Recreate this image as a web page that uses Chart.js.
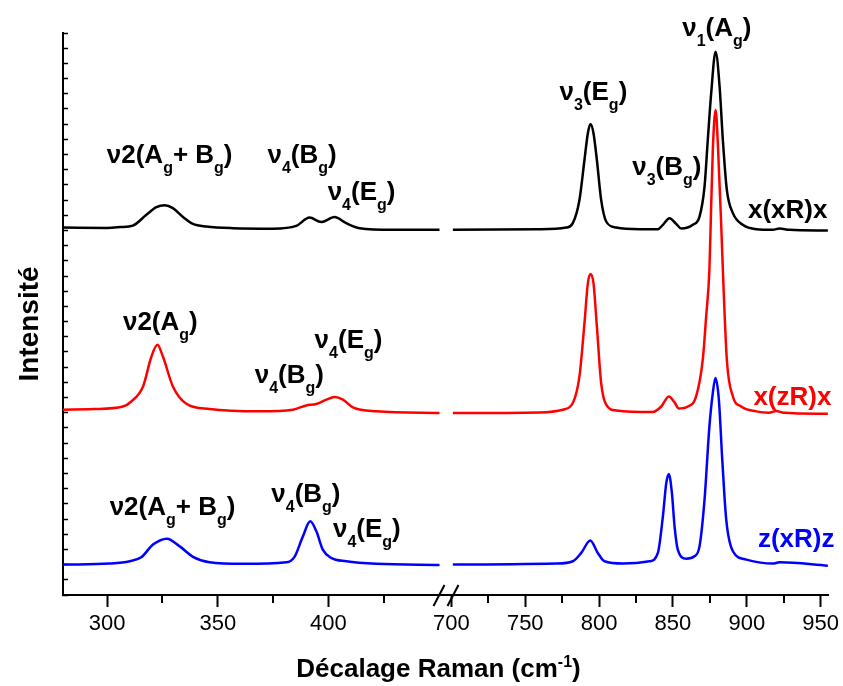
<!DOCTYPE html>
<html>
<head>
<meta charset="utf-8">
<script src="https://cdn.jsdelivr.net/npm/chart.js@4.4.0/dist/chart.umd.min.js"></script>
<style>
  html, body { margin: 0; padding: 0; background: #fff; }
  #wrap { width: 843px; height: 686px; }
</style>
</head>
<body>
<div id="wrap"><canvas id="raman"></canvas></div>
<script>
// spectres Raman : partie basse (280-453 cm-1) et haute (696-955 cm-1)
// intensité en unités arbitraires, chaque polarisation décalée verticalement

// x(xR)x
const blackLowX = [280, 300, 306, 311.6, 317.7, 322.2, 326.0, 329.7, 334.3, 338.8, 344.8, 356.9, 375, 385.5, 391.5, 396.8, 402.8, 408.1, 414.1, 429.2, 450.3];
const blackLowY = [23.19, 23.17, 23.22, 23.32, 24.03, 24.53, 24.66, 24.47, 23.88, 23.43, 23.26, 23.15, 23.12, 23.30, 23.85, 23.55, 23.88, 23.48, 23.15, 23.04, 23.04];
const blackHighX = [701, 759.6, 777.7, 782.2, 786.7, 790.1, 792.4, 794.2, 796.2, 798.5, 801.4, 804.8, 811.6, 827.4, 839.8, 843.2, 847.7, 852.2, 855.6, 863.5, 868.0, 871.4, 873.6, 875.9, 878.9, 881.6, 883.8, 886.5, 890.6, 897.3, 906.4, 917.6, 922.2, 928.9, 954.9];
const blackHighY = [23.04, 23.08, 23.19, 23.48, 25.01, 27.64, 29.40, 30.01, 29.40, 27.64, 25.01, 23.59, 23.19, 23.08, 23.08, 23.37, 23.81, 23.43, 23.13, 23.37, 23.91, 25.89, 28.96, 32.03, 34.77, 32.47, 28.96, 25.67, 24.14, 23.37, 23.08, 23.04, 23.13, 23.04, 22.99];

// x(zR)x
const redLowX = [280, 293.6, 307.1, 310.9, 316.2, 320.0, 322.7, 325.2, 329.7, 335.8, 346.3, 368.9, 384.0, 390.0, 394.6, 399.1, 402.8, 406.6, 411.1, 421.7, 450.3];
const redLowY = [11.20, 11.24, 11.41, 11.74, 12.73, 14.70, 15.47, 14.70, 12.73, 11.59, 11.24, 11.09, 11.20, 11.48, 11.57, 11.86, 12.03, 11.86, 11.35, 11.09, 10.98];
const redHighX = [701, 759.6, 775.4, 782.2, 786.7, 790.1, 792.4, 794.2, 796.2, 798.5, 801.4, 804.8, 811.6, 836.4, 842.1, 847.2, 851.1, 854.0, 860.1, 865.7, 870.2, 872.5, 874.7, 875.4, 877.0, 878.9, 880.6, 882.9, 883.8, 886.5, 890.6, 896.2, 906.4, 915, 919.9, 925, 954.9];
const redHighY = [10.98, 11.02, 11.20, 11.64, 13.39, 16.90, 19.53, 20.14, 19.53, 16.68, 12.95, 11.53, 11.15, 11.05, 11.41, 12.07, 11.68, 11.28, 11.41, 12.07, 14.49, 17.34, 20.41, 22.82, 28.30, 30.93, 28.30, 22.82, 20.41, 14.49, 12.07, 11.41, 11.09, 11.00, 11.12, 11.00, 10.93];

// z(xR)z
const blueLowX = [280, 301.1, 310.2, 315.4, 320.7, 327.0, 332.8, 338.8, 346.3, 361.4, 381.0, 384.7, 388.5, 391.8, 394.6, 397.5, 401.3, 408.1, 421.7, 450.3];
const blueLowY = [1.00, 1.07, 1.22, 1.48, 2.32, 2.71, 2.20, 1.51, 1.15, 1.05, 1.15, 1.51, 2.86, 3.85, 3.19, 1.99, 1.44, 1.22, 1.05, 0.98];
const blueHighX = [701, 770.9, 782.2, 787.9, 794.0, 799.1, 803.7, 816.1, 834.1, 839.8, 843.2, 845.5, 847.2, 849.3, 851.1, 853.3, 859.0, 864.6, 868.0, 871.4, 874.7, 877.0, 878.8, 881.1, 883.4, 886.1, 890.6, 899.7, 917.6, 922.2, 954.9];
const blueHighY = [1.00, 1.07, 1.22, 1.77, 2.58, 1.77, 1.22, 1.07, 1.22, 1.77, 4.18, 6.38, 6.97, 5.72, 3.52, 1.99, 1.39, 1.55, 2.20, 5.28, 10.10, 12.30, 13.28, 11.86, 7.91, 3.96, 1.88, 1.33, 1.07, 1.15, 0.93];

// graduations
const lowTicks = [300, 350, 400];
const lowMinor = [325, 375, 425];
const highTicks = [700, 750, 800, 850, 900, 950];
const highMinor = [725, 775, 825, 875, 925];

const BLACK = '#000000';
const RED = '#ff0000';
const BLUE = '#0000ff';
const FONT = '"Liberation Sans", Arial, Helvetica, sans-serif';

// attributions des bandes (_ = indice, ^{} = exposant)
const peakLabels = [
    { text: 'ν2(A_g+ B_g)', axis: 'xL', x: 299.8, y: 27.45, color: BLACK },
    { text: 'ν_4(B_g)', axis: 'xL', x: 372.5, y: 27.45, color: BLACK },
    { text: 'ν_4(E_g)', axis: 'xL', x: 399.7, y: 25.0, color: BLACK },
    { text: 'ν_3(E_g)', axis: 'xR', x: 773.2, y: 31.6, color: BLACK },
    { text: 'ν_3(B_g)', axis: 'xR', x: 822.4, y: 26.66, color: BLACK },
    { text: 'ν_1(A_g)', axis: 'xR', x: 856.3, y: 35.8, color: BLACK },
    { text: 'x(xR)x', axis: 'xR', x: 954.6, y: 23.83, color: BLACK, align: 'right' },
    { text: 'ν2(A_g)', axis: 'xL', x: 307.1, y: 16.46, color: BLACK },
    { text: 'ν_4(E_g)', axis: 'xL', x: 393.8, y: 15.28, color: BLACK },
    { text: 'ν_4(B_g)', axis: 'xL', x: 366.7, y: 12.97, color: BLACK },
    { text: 'x(zR)x', axis: 'xR', x: 957.3, y: 11.53, color: RED, align: 'right' },
    { text: 'ν2(A_g+ B_g)', axis: 'xL', x: 301.1, y: 4.29, color: BLACK },
    { text: 'ν_4(B_g)', axis: 'xL', x: 374.2, y: 5.14, color: BLACK },
    { text: 'ν_4(E_g)', axis: 'xL', x: 402.1, y: 2.84, color: BLACK },
    { text: 'z(xR)z', axis: 'xR', x: 959.4, y: 2.18, color: BLUE, align: 'right' }
];

function toPoints(xs, ys) {
    return xs.map((x, i) => ({ x: x, y: ys[i] }));
}

// découpe "ν_4(B_g)" en morceaux normal / indice / exposant
function richParts(str) {
    const parts = [];
    let i = 0;
    while (i < str.length) {
        const c = str[i];
        if (c === '_' || c === '^') {
            let t;
            if (str[i + 1] === '{') {
                const j = str.indexOf('}', i);
                t = str.slice(i + 2, j);
                i = j + 1;
            } else {
                t = str[i + 1];
                i += 2;
            }
            parts.push({ t: t, mode: c === '_' ? 'sub' : 'sup' });
        } else {
            let j = i;
            while (j < str.length && str[j] !== '_' && str[j] !== '^') j++;
            parts.push({ t: str.slice(i, j), mode: 'n' });
            i = j;
        }
    }
    return parts;
}

function drawRich(ctx, str, x, y, size, color, align) {
    const parts = richParts(str);
    const small = Math.round(size * 0.62);
    const fontOf = p => `bold ${p.mode === 'n' ? size : small}px ${FONT}`;
    let w = 0;
    parts.forEach(p => {
        ctx.font = fontOf(p);
        p.w = ctx.measureText(p.t).width;
        w += p.w;
    });
    let cx = align === 'right' ? x - w : align === 'center' ? x - w / 2 : x;
    ctx.fillStyle = color;
    ctx.textAlign = 'left';
    ctx.textBaseline = 'alphabetic';
    parts.forEach(p => {
        ctx.font = fontOf(p);
        const dy = p.mode === 'sub' ? size * 0.38 : p.mode === 'sup' ? -size * 0.4 : 0;
        ctx.fillText(p.t, cx, y + dy);
        cx += p.w;
    });
}

// petites graduations, coupure d'axe, annotations et titres
const decorPlugin = {
    id: 'decor',
    afterDraw(chart) {
        const ctx = chart.ctx;
        const area = chart.chartArea;
        const xL = chart.scales.xL;
        const xR = chart.scales.xR;
        const y = chart.scales.y;

        ctx.save();
        ctx.strokeStyle = BLACK;
        ctx.lineWidth = 2;
        [[xL, lowMinor], [xR, highMinor]].forEach(([scale, vals]) => {
            vals.forEach(v => {
                const px = Math.round(scale.getPixelForValue(v));
                ctx.beginPath();
                ctx.moveTo(px, scale.top);
                ctx.lineTo(px, scale.top + 8);
                ctx.stroke();
            });
        });

        // coupure //
        const bx = xL.right;
        const by = xL.top;
        [-12, 2].forEach(off => {
            ctx.beginPath();
            ctx.moveTo(bx + off, by + 11);
            ctx.lineTo(bx + off + 11, by - 10);
            ctx.stroke();
        });

        peakLabels.forEach(l => {
            const px = chart.scales[l.axis].getPixelForValue(l.x);
            const py = y.getPixelForValue(l.y);
            drawRich(ctx, l.text, px, py, 26, l.color, l.align || 'left');
        });

        drawRich(ctx, 'Décalage Raman (cm^{-1})', (area.left + area.right) / 2 - 7, area.bottom + 82, 26, BLACK, 'center');

        ctx.translate(area.left - 33, (area.top + area.bottom) / 2 + 10);
        ctx.rotate(-Math.PI / 2);
        ctx.font = `bold 28px ${FONT}`;
        ctx.fillStyle = BLACK;
        ctx.textAlign = 'center';
        ctx.textBaseline = 'middle';
        ctx.fillText('Intensité', 0, 0);
        ctx.restore();
    }
};

function lineSet(label, xs, ys, color, axis) {
    return {
        label: label,
        data: toPoints(xs, ys),
        xAxisID: axis,
        yAxisID: 'y',
        borderColor: color,
        borderWidth: 2.5,
        pointRadius: 0,
        fill: false,
        cubicInterpolationMode: 'monotone'
    };
}

function xScale(min, max, ticks) {
    return {
        type: 'linear',
        position: 'bottom',
        stack: 'raman',
        stackWeight: 1,
        min: min,
        max: max,
        afterBuildTicks: s => { s.ticks = ticks.map(v => ({ value: v })); },
        afterFit: s => {
            s.height = 91;
            // les étiquettes en bout d'axe ne doivent pas rétrécir la zone du graphe
            s.paddingLeft = 0;
            s.paddingRight = 0;
        },
        ticks: {
            color: BLACK,
            font: { family: FONT, size: 22 },
            padding: 4,
            autoSkip: false,
            maxRotation: 0
        },
        grid: {
            drawOnChartArea: false,
            drawTicks: true,
            tickLength: 12,
            tickWidth: 2,
            tickColor: BLACK
        },
        border: { display: true, color: BLACK, width: 2 }
    };
}

new Chart(document.getElementById('raman'), {
    type: 'line',
    data: {
        datasets: [
            lineSet('z(xR)z', blueLowX, blueLowY, BLUE, 'xL'),
            lineSet('z(xR)z', blueHighX, blueHighY, BLUE, 'xR'),
            lineSet('x(zR)x', redLowX, redLowY, RED, 'xL'),
            lineSet('x(zR)x', redHighX, redHighY, RED, 'xR'),
            lineSet('x(xR)x', blackLowX, blackLowY, BLACK, 'xL'),
            lineSet('x(xR)x', blackHighX, blackHighY, BLACK, 'xR')
        ]
    },
    options: {
        responsive: true,
        maintainAspectRatio: false,
        animation: false,
        layout: { padding: { left: 63, top: 33, right: 15, bottom: 0 } },
        plugins: {
            legend: { display: false },
            tooltip: { enabled: false }
        },
        scales: {
            xL: xScale(280, 453, lowTicks),
            xR: xScale(696, 955, highTicks),
            y: {
                type: 'linear',
                position: 'left',
                min: -1,
                max: 36,
                afterFit: s => { s.width = 0; },
                ticks: { display: false, stepSize: 1 },
                grid: {
                    drawOnChartArea: false,
                    drawTicks: true,
                    tickLength: -5,
                    tickWidth: 1.5,
                    tickColor: BLACK
                },
                border: { display: true, color: BLACK, width: 2 }
            }
        }
    },
    plugins: [decorPlugin]
});
</script>
</body>
</html>
